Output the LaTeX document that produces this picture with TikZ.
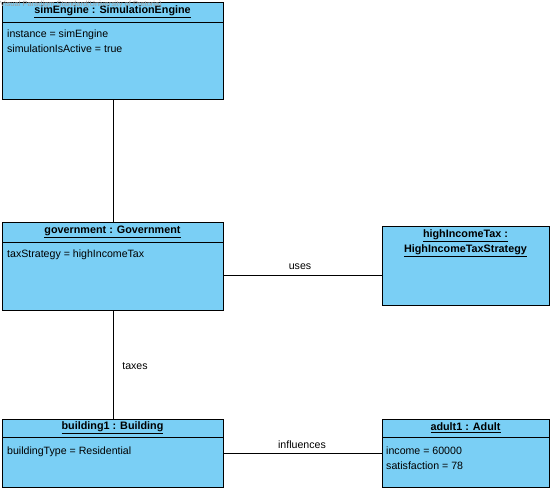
\documentclass[tikz,border=0pt]{standalone}
\usepackage{fontspec}
\setmainfont{Liberation Sans}
\definecolor{objfill}{RGB}{122,207,245}
\definecolor{wm}{RGB}{160,160,160}
\begin{document}
\begin{tikzpicture}[x=1pt,y=-1pt,
  obj/.style={draw=black,fill=objfill,line width=0.9pt,inner sep=0pt},
  ttl/.style={font=\fontsize{10.8}{12}\selectfont\bfseries,inner sep=0pt,align=center},
  attr/.style={font=\fontsize{10.6}{14.5}\selectfont,inner sep=0pt,anchor=north west,align=left},
  conn/.style={draw=black,line width=0.7pt},
  lbl/.style={font=\fontsize{10.6}{12}\selectfont,inner sep=0pt}]
\useasboundingbox (0,0) rectangle (553,492);
% simEngine
\node[obj,minimum width=221pt,minimum height=97pt,anchor=north west] (sim) at (2,2) {};
\draw[line width=0.9pt] (2,22) -- (223,22);
\node[ttl] (simt) at (112.5,11.5) {\underline{simEngine : SimulationEngine}};
\node[attr] (sima) at (7,30) {instance = simEngine\\simulationIsActive = true};
\node[font=\fontsize{7.5}{8}\selectfont,text=wm,inner sep=0pt,anchor=north west] (wmk) at (0,0.5) {Visual Paradigm Standard(University of Pretoria)};
% government
\node[obj,minimum width=221pt,minimum height=88pt,anchor=north west] (gov) at (2,222) {};
\draw[line width=0.9pt] (2,242) -- (223,242);
\node[ttl] (govt) at (112.5,231.5) {\underline{government : Government}};
\node[attr] (gova) at (7,250) {taxStrategy = highIncomeTax};
% highIncomeTax
\node[obj,minimum width=167pt,minimum height=79pt,anchor=north west] (hit) at (382,226) {};
\node[ttl] (hitt) at (465.5,243) {\underline{highIncomeTax :}\\[2pt]\underline{HighIncomeTaxStrategy}};
% building1
\node[obj,minimum width=221pt,minimum height=68pt,anchor=north west] (bld) at (2,419) {};
\draw[line width=0.9pt] (2,437) -- (223,437);
\node[ttl] (bldt) at (112.5,427.5) {\underline{building1 : Building}};
\node[attr] (blda) at (7,447) {buildingType = Residential};
% adult1
\node[obj,minimum width=167pt,minimum height=68pt,anchor=north west] (adl) at (382,419) {};
\draw[line width=0.9pt] (382,437) -- (549,437);
\node[ttl] (adlt) at (465.5,427.5) {\underline{adult1 : Adult}};
\node[attr] (adla) at (386,447) {income = 60000\\satisfaction = 78};
% connectors
\draw[conn] (sim.south) -- (gov.north);
\draw[conn] (gov.east |- 0,275) -- (hit.west |- 0,275);
\draw[conn] (gov.south) -- (bld.north);
\draw[conn] (bld.east |- 0,453) -- (adl.west |- 0,453);
\node[lbl] (uses) at (300,267) {uses};
\node[lbl] (taxes) at (135,366) {taxes};
\node[lbl] (infl) at (302,445) {influences};
\end{tikzpicture}
\end{document}
